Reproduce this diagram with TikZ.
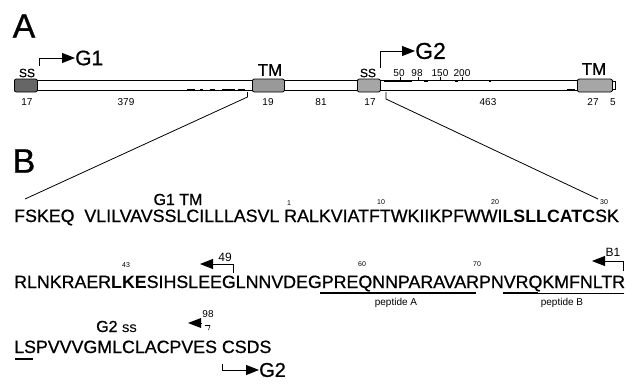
\documentclass[tikz,border=0pt]{standalone}
\usepackage{fontspec}
\setmainfont{Liberation Sans}
\newfontfamily\seqfont[UprightFeatures={FakeBold=0.8}]{Liberation Sans}
\usetikzlibrary{arrows.meta}
\begin{document}
\begin{tikzpicture}[x=1pt,y=-1pt,
  seq/.style={font=\seqfont\fontsize{17.8}{20}\selectfont, inner sep=0, anchor=base west},
  tiny/.style={font=\fontsize{7}{8}\selectfont, inner sep=0},
  under/.style={font=\fontsize{10}{11}\selectfont, inner sep=0},
  boxlab/.style={font=\seqfont\fontsize{12}{13}\selectfont, inner sep=0},
  tmlab/.style={font=\seqfont\fontsize{17}{18}\selectfont, inner sep=0},
  tick/.style={font=\fontsize{10}{11}\selectfont, inner sep=0},
  dom/.style={draw, line width=0.8pt, rounded corners=2pt, inner sep=0, anchor=west, minimum height=13pt},
  tarr/.style={-{Triangle[length=13pt,width=10pt]}, line width=0.9pt},
  barmark/.style={line width=1.6pt},
  conn/.style={line width=0.8pt},
  uline/.style={line width=1.3pt}]
\useasboundingbox (0,0) rectangle (626,383);
% panel letters
\node[font=\seqfont\fontsize{34}{36}\selectfont, inner sep=0] (A) at (24,26) {A};
\node[font=\seqfont\fontsize{34}{36}\selectfont, inner sep=0] (B) at (24,161) {B};
% bar
\node[draw, line width=0.8pt, inner sep=0, anchor=west, minimum width=598, minimum height=10] (bar) at (14,85.5) {};
\node[draw, line width=0.8pt, inner sep=0, anchor=west, minimum width=4, minimum height=8] (cap) at (611,85.5) {};
\node[dom, minimum width=23, fill=black!60] (ss1) at (14,85.5) {};
\node[dom, minimum width=32, fill=black!40] (tm1) at (252,85.5) {};
\node[dom, minimum width=23, fill=black!35] (ss2) at (357,85.5) {};
\node[dom, minimum width=35, fill=black!35] (tm2) at (577,85.5) {};
% marks on bar
\foreach \a/\b in {187/195,200/203,210/215,222/235,238/245,567/575}
  \draw[barmark] (\a,89.5) -- (\b,89.5);
\foreach \a/\b in {384/412,424/428,455/458,489/491}
  \draw[barmark] (\a,81.5) -- (\b,81.5);
\foreach \x in {400,418,440,462}
  \draw[line width=0.7pt] (\x,81) -- (\x,77);
% labels above bar
\node[boxlab] (lss1) at (27,73) {SS};
\node[tmlab] (ltm1) at (270,70) {TM};
\node[boxlab] (lss2) at (368,73) {SS};
\node[tmlab] (ltm2) at (594,69) {TM};
\node[tick] (t50) at (399,73) {50};
\node[tick] (t98) at (417,73) {98};
\node[tick] (t150) at (440,73) {150};
\node[tick] (t200) at (462,73) {200};
% lengths under bar
\foreach \x/\t in {27/17,126/379,268/19,321/81,370/17,488/463,593/27,613/5}
  \node[tick] at (\x,102) {\t};
% G1 / G2 arrows top
\coordinate (g1s) at (39,66);
\node[font=\seqfont\fontsize{21}{22}\selectfont, inner sep=0, anchor=west] (G1) at (75,58) {G1};
\draw[tarr] (g1s) |- (G1.west);
\coordinate (g2s) at (380,68);
\node[font=\seqfont\fontsize{23}{24}\selectfont, inner sep=0, anchor=west] (G2) at (415,51) {G2};
\draw[tarr] (g2s) |- (G2.west);
% connectors
\coordinate (c1) at (247.5,92);
\coordinate (d1) at (25,199);
\draw[conn] (c1) -- ++(0,5) -- (d1);
\coordinate (c2) at (386,92);
\coordinate (d2) at (598,199);
\draw[conn] (c2) -- ++(0,7) -- (d2);
% row 1
\node[font=\seqfont\fontsize{16}{17}\selectfont, inner sep=0, anchor=base] (g1tm) at (178,205) {G1 TM};
\node[seq] (r1) at (14,222) {FSKEQ\ \ VLILVAVSSLCILLLASVL RALKVIATFTWKIIKPFWWI\textbf{LSLLCATC}SK};
\node[tiny] (n1) at (289,203) {1};
\node[tiny] (n10) at (381,202) {10};
\node[tiny] (n20) at (495,202) {20};
\node[tiny] (n30) at (604,202) {30};
% row 2
\node[seq] (r2) at (14,288) {RLNKRAER\textbf{LKE}SIHSLEEGLNNVDEGPREQNNPARAVARPNVRQKMFNLTR};
\node[tiny] (n43) at (126,265) {43};
\node[tiny] (n60) at (362,264) {60};
\node[tiny] (n70) at (477,264) {70};
\node[font=\fontsize{12}{13}\selectfont, inner sep=0] (l49) at (225,257) {49};
\coordinate (a49) at (233,273);
\coordinate (t49) at (200,264);
\draw[tarr] (a49) |- (t49);
\node[font=\fontsize{12}{13}\selectfont, inner sep=0] (lB1) at (613,252) {B1};
\coordinate (aB1) at (623,271);
\coordinate (tB1) at (592,261);
\draw[tarr] (aB1) |- (tB1);
\draw[uline] (320,293) -- (476,293);
\draw[uline] (503,293) -- (538,293);
\draw[line width=0.9pt] (538,293) -- (624,293);
\node[under] (pA) at (396,303) {peptide A};
\node[under] (pB) at (562,303) {peptide B};
% row 3
\node[font=\seqfont\fontsize{16}{17}\selectfont, inner sep=0, anchor=base west] (g2ss) at (96,332) {G2 \fontsize{11}{12}\selectfont SS};
\coordinate (t98s) at (201,323);
\coordinate (t98) at (188,323);
\draw[tarr, line width=0pt] (t98s) -- (t98);
\node[font=\fontsize{10}{11}\selectfont, inner sep=0] (l98) at (208,314) {98};
\draw[line width=0.6pt] (205,325.5) -- (210,325.5) -- (208.5,330);
\node[seq] (r3) at (14,353) {LSPVVVGMLCLACPVES CSDS};
\draw[uline] (15,359) -- (33,359);
\node[font=\seqfont\fontsize{20}{21}\selectfont, inner sep=0, anchor=west] (G2b) at (259,370) {G2};
\coordinate (g2b) at (222,364);
\draw[tarr] (g2b) |- (G2b.west);
\end{tikzpicture}
\end{document}
